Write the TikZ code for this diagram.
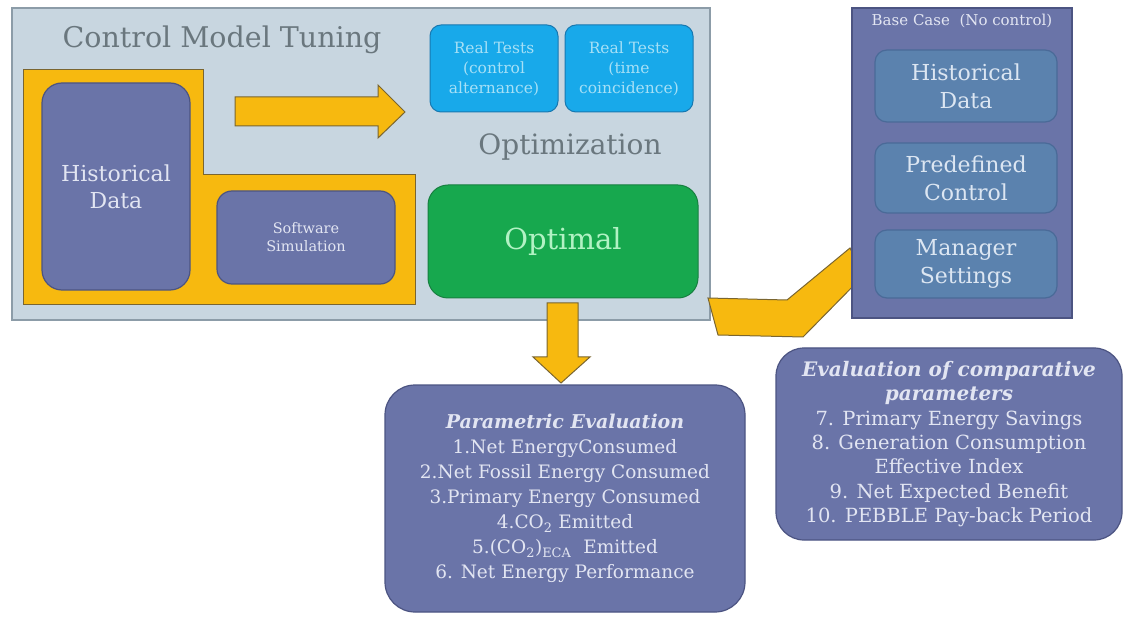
\documentclass[tikz,border=0pt]{standalone}
\usepackage{fontspec}
\setmainfont{DejaVu Serif}
\definecolor{panelfill}{HTML}{C8D6E0}
\definecolor{paneledge}{HTML}{8C9CA8}
\definecolor{titlegray}{HTML}{6A777E}
\definecolor{gold}{HTML}{F7B90F}
\definecolor{goldedge}{HTML}{7A6530}
\definecolor{slate}{HTML}{6A74A8}
\definecolor{slateedge}{HTML}{4C5482}
\definecolor{slatetext}{HTML}{E2E5F2}
\definecolor{cyanbox}{HTML}{18A9EA}
\definecolor{cyanedge}{HTML}{1878B0}
\definecolor{cyantext}{HTML}{A6E0F6}
\definecolor{greenbox}{HTML}{17A84E}
\definecolor{greenedge}{HTML}{178040}
\definecolor{greentext}{HTML}{B2F2C4}
\definecolor{steel}{HTML}{5B82AE}
\definecolor{steeledge}{HTML}{4A6A98}
\definecolor{steeltext}{HTML}{DCE6F2}
\newcommand{\headbi}[2]{\textbf{\textit{\fontsize{#1}{24}\selectfont #2}}}
\tikzset{
  fsz/.style 2 args={font=\fontsize{#1}{#2}\selectfont},
  panelbox/.style={draw=paneledge, line width=1.2pt, fill=panelfill, inner sep=0pt},
  slatebox/.style={draw=slateedge, line width=1.2pt, fill=slate, text=slatetext,
    align=center, inner sep=0pt, rounded corners=#1},
  realbox/.style={draw=cyanedge, line width=1pt, fill=cyanbox, text=cyantext,
    align=center, inner sep=0pt, rounded corners=11pt, minimum width=128pt, minimum height=87pt},
  basebox/.style={draw=steeledge, line width=1.2pt, fill=steel, text=steeltext,
    align=center, inner sep=0pt, rounded corners=12pt, minimum width=182pt},
  blockarrow/.style={draw=goldedge, line width=1pt, fill=gold, line join=miter},
  headtext/.style={text=titlegray, inner sep=0pt}
}
\begin{document}
\begin{tikzpicture}[x=1pt,y=-1pt]
\useasboundingbox (0,0) rectangle (1124,617);

% tuning panel
\node[panelbox, minimum width=698pt, minimum height=312pt] (panel) at (361,164) {};
\node[headtext, fsz={28.5}{32}] (title) at (222,40) {Control Model Tuning};

% golden L-shaped frame
\draw[blockarrow] (23,70) -- (203,70) -- (203,175) -- (415,175) -- (415,305) -- (23,305) -- cycle;

\node[slatebox=20pt, minimum width=148pt, minimum height=207pt, fsz={22}{27}] (hist) at (116,186.5) {Historical\\Data};
\node[slatebox=15pt, minimum width=178pt, minimum height=93pt, fsz={14.5}{18}] (soft) at (306,237.5) {Software\\Simulation};

% arrow towards the real tests
\draw[blockarrow] (235,97) -- (378,97) -- (378,85) -- (405,112) -- (378,138) -- (378,126) -- (235,126) -- cycle;

\node[realbox, fsz={15.5}{20}] (real1) at (494,68.5) {Real Tests\\(control\\alternance)};
\node[realbox, fsz={15.5}{20}] (real2) at (629,68.5) {Real Tests\\(time\\coincidence)};

\node[headtext, fsz={28}{32}] (optz) at (570,147) {Optimization};
\node[draw=greenedge, line width=1pt, fill=greenbox, text=greentext, rounded corners=20pt,
  inner sep=0pt, minimum width=270pt, minimum height=113pt, fsz={29}{32}] (optimal) at (563,241.5) {Optimal};

% arrow down to the parametric evaluation
\draw[blockarrow] (547,303) -- (578,303) -- (578,357) -- (590,357) -- (561,383) -- (533,357) -- (547,357) -- cycle;

% bent arrow from the base case
\draw[blockarrow] (708,298) -- (787,300) -- (850,248) -- (864,275) -- (803,337) -- (718,335) -- cycle;

% base case panel
\node[draw=slateedge, line width=1.2pt, fill=slate, inner sep=0pt, minimum width=220pt, minimum height=310pt] (base) at (962,163) {};
\node[text=slatetext, inner sep=0pt, fsz={15}{17}] (basetitle) at (962,21) {Base Case\ \ (No control)};
\node[basebox, minimum height=72pt, fsz={22}{28}] (bhist) at (966,86) {Historical\\Data};
\node[basebox, minimum height=70pt, fsz={22}{28}] (bpre) at (966,178) {Predefined\\Control};
\node[basebox, minimum height=68pt, fsz={22}{28}] (bman) at (966,264) {Manager\\Settings};

% evaluation boxes
\node[slatebox=30pt, minimum width=360pt, minimum height=227pt, fsz={18.5}{25}] (param) at (565,498.5)
  {\headbi{19}{Parametric Evaluation}\\
   1.Net EnergyConsumed\\
   2.Net Fossil Energy Consumed\\
   3.Primary Energy Consumed\\
   4.CO\textsubscript{2} Emitted\\
   5.(CO\textsubscript{2})\textsubscript{ECA}\ \ Emitted\\
   6. Net Energy Performance};
\node[slatebox=28pt, minimum width=346pt, minimum height=192pt, fsz={19.5}{24.3}] (comp) at (949,444)
  {\headbi{20}{Evaluation of comparative}\\
   \headbi{20}{parameters}\\
   7. Primary Energy Savings\\
   8. Generation Consumption\\
   Effective Index\\
   9. Net Expected Benefit\\
   10. PEBBLE Pay-back Period};
\end{tikzpicture}
\end{document}
